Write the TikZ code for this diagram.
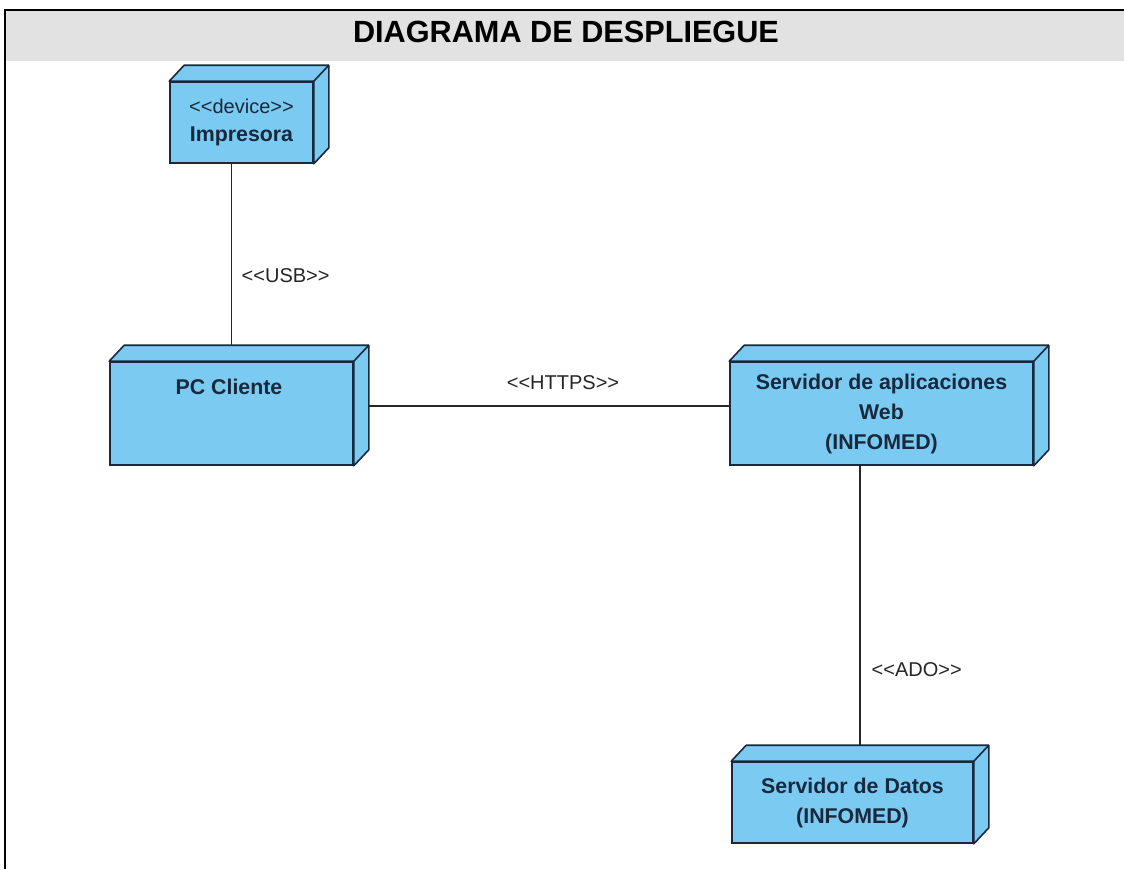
\documentclass[tikz,border=0pt]{standalone}
\usepackage{fontspec}
\setmainfont{Liberation Sans}
\usepackage{xcolor}
\usetikzlibrary{calc, positioning}
\definecolor{azulnodo}{RGB}{122,202,242}
\definecolor{bordenodo}{RGB}{26,40,60}
\definecolor{grisbanda}{RGB}{226,226,226}
\newcommand{\ab}{<\kern0pt<}% << without ligature
\newcommand{\ci}{>\kern0pt>}% >> without ligature
\tikzset{
    x=0.75pt, y=-0.75pt,% one unit is one pixel of the picture, y grows downwards
    nodo/.style ={rectangle, draw=bordenodo, fill=azulnodo, line width=1.2pt, inner sep=0pt, align=center, text=bordenodo,
                  font=\fontsize{16}{22.5}\selectfont\bfseries},% front face of a node
    cara/.style ={draw=bordenodo, fill=azulnodo, line width=1.2pt, line join=round},% top and side faces
    enlace/.style ={draw=black!85, line width=1pt},
    etiqueta/.style ={font=\fontsize{15}{18}\selectfont, text=black!85}
}
\newcommand{\volumen}[1]{% depth of a node box
    \draw[cara] (#1.north west) -- ++(15,-16) -- ($(#1.north east)+(15,-16)$) -- ($(#1.south east)+(15,-16)$)
        -- (#1.south east) -- (#1.north east) -- cycle;
    \draw[cara] (#1.north east) -- ++(15,-16);
}

\begin{document}
\begin{tikzpicture}
    \useasboundingbox (0,0) rectangle (1124,869);
    % marco y titulo
    \fill[grisbanda] (5,10) rectangle (1124,61);
    \draw[line width=1.4pt] (1124,10) -- (5,10) -- (5,869);
    \node[font=\fontsize{23}{28}\selectfont\bfseries] (titulo) at (566,32) {DIAGRAMA DE DESPLIEGUE};

    % nodos
    \node[nodo, minimum width=143*0.75pt, minimum height=81*0.75pt, font=\fontsize{16}{21}\selectfont] (impresora) at (241.5,122.5)
        {{\fontsize{15}{21}\selectfont\mdseries\ab device\ci}\\\bfseries Impresora};
    \volumen{impresora}
    \node[nodo, minimum width=243*0.75pt, minimum height=103*0.75pt] (pc) at (231.5,413.5) {};
    \volumen{pc}
    \node[nodo, text=bordenodo, fill=none, draw=none] (pctexto) at (229,387) {PC Cliente};
    \node[nodo, minimum width=303*0.75pt, minimum height=103*0.75pt] (web) at (881.5,413.5)
        {Servidor de aplicaciones\\Web\\(INFOMED)};
    \volumen{web}
    \node[nodo, minimum width=241*0.75pt, minimum height=81*0.75pt] (datos) at (852.5,802.5)
        {Servidor de Datos\\(INFOMED)};
    \volumen{datos}

    % conexiones
    \coordinate (pcarriba) at ($(pc.north)+(0,-16)$);
    \coordinate (datosarriba) at ($(datos.north)+(7.5,-16)$);
    \draw[enlace] (impresora.south -| pcarriba) -- (pcarriba);
    \draw[enlace] ($(pc.east)+(15,-7.5)$) -- ($(web.west)+(0,-7.5)$);
    \draw[enlace] (web.south -| datosarriba) -- (datosarriba);
    \node[etiqueta, anchor=west] (usb) at (237,276) {\ab USB\ci};
    \node[etiqueta] (https) at (563,383) {\ab HTTPS\ci};
    \node[etiqueta, anchor=west] (ado) at (867,670) {\ab ADO\ci};
\end{tikzpicture}
\end{document}
